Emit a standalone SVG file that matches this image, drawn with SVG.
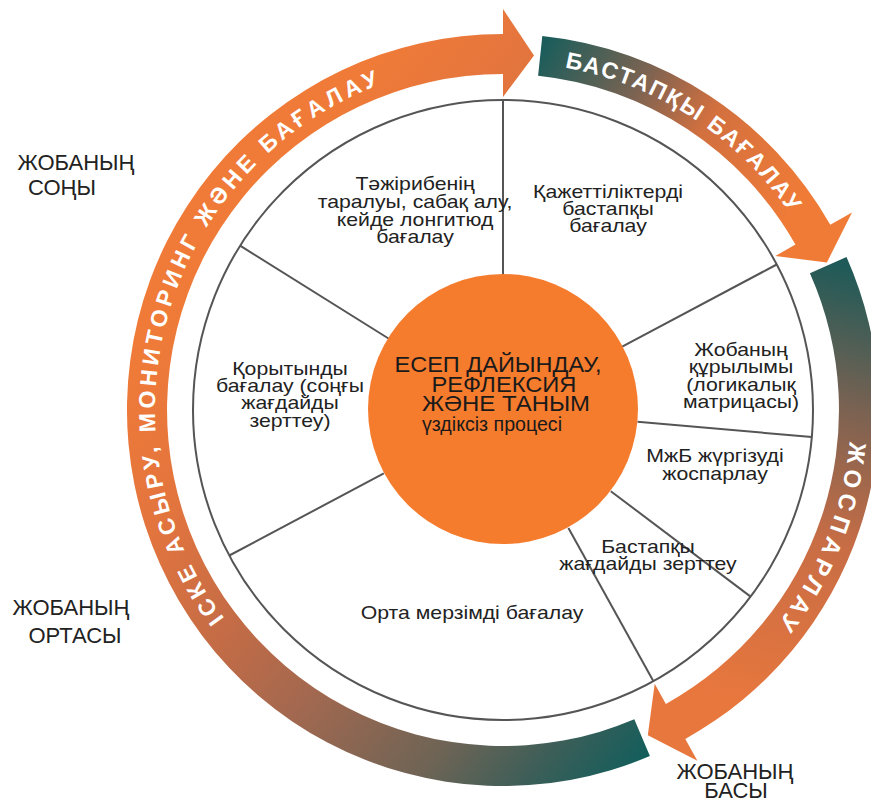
<svg xmlns="http://www.w3.org/2000/svg" width="871" height="802" viewBox="0 0 871 802">
<style>
text{font-family:"Liberation Sans",Arial,sans-serif}
.seg{font-size:18px;fill:#222;text-anchor:middle}
.ctr{font-size:22px;fill:#1a1a1a;text-anchor:middle}
.lbl{font-size:22px;fill:#222;text-anchor:middle}
.arc{font-size:23px;font-weight:bold;fill:#fff;text-anchor:middle}
.spoke{stroke:#555;stroke-width:2;fill:none}
</style>
<defs>
<linearGradient id="gA" gradientUnits="userSpaceOnUse" x1="660" y1="740" x2="150" y2="330">
<stop offset="0" stop-color="#135E5C"/>
<stop offset="0.12" stop-color="#3D5E58"/>
<stop offset="0.25" stop-color="#6E6455"/>
<stop offset="0.45" stop-color="#A06850"/>
<stop offset="0.6" stop-color="#C06B47"/>
<stop offset="0.8" stop-color="#E2743E"/>
<stop offset="1" stop-color="#F07B38"/>
</linearGradient>
<linearGradient id="gB" gradientUnits="userSpaceOnUse" x1="540" y1="55" x2="800" y2="200">
<stop offset="0" stop-color="#1C5D5B"/>
<stop offset="0.35" stop-color="#7E6351"/>
<stop offset="0.6" stop-color="#D2703F"/>
<stop offset="1" stop-color="#F07B37"/>
</linearGradient>
<linearGradient id="gC" gradientUnits="userSpaceOnUse" x1="840" y1="265" x2="720" y2="700">
<stop offset="0" stop-color="#1F5A58"/>
<stop offset="0.3" stop-color="#7A6252"/>
<stop offset="0.6" stop-color="#C86D45"/>
<stop offset="1" stop-color="#E8773D"/>
</linearGradient>
<path id="tpA" d="M250.6,649.5 A348,348 0 0 1 421.8,71.6"/>
<path id="tpB" d="M521.2,62.5 A348,348 0 0 1 813.1,252"/>
<path id="tpC" d="M847.6,361.6 A348,348 0 0 1 717.3,684.2"/>
</defs>
<rect width="871" height="802" fill="#fff"/>

<g id="arrow-implementation">
<path d="M649.9,756.1 A376,376 0 1 1 503,34 L503,9 L534,55.4 L503,97 L503,74 A336,336 0 1 0 634.3,719.3 Z" fill="url(#gA)"/>
<text class="arc" style="letter-spacing:4px"><textPath href="#tpA" startOffset="50%">ІСКЕ АСЫРУ, МОНИТОРИНГ ЖӘНЕ БАҒАЛАУ</textPath></text>
</g>
<g id="arrow-baseline">
<path d="M542.3,36.1 A376,376 0 0 1 830.3,224.8 L852,212.5 L826.9,262.4 L775.4,255.9 L795.4,244.5 A336,336 0 0 0 538.1,75.8 Z" fill="url(#gB)"/>
<text class="arc" style="letter-spacing:2px"><textPath href="#tpB" startOffset="50%">БАСТАПҚЫ БАҒАЛАУ</textPath></text>
</g>
<g id="arrow-planning">
<path d="M846.5,257.1 A376,376 0 0 1 685.3,738.9 L697.4,760.7 L647.8,735.2 L654.7,683.8 L665.9,703.9 A336,336 0 0 0 809.9,273.3 Z" fill="url(#gC)"/>
<text class="arc" style="font-size:24px;letter-spacing:5.5px"><textPath href="#tpC" startOffset="50%">ЖОСПАРЛАУ</textPath></text>
</g>

<g id="wheel">
<circle cx="503" cy="410" r="310" fill="#fff" stroke="#555" stroke-width="2"/>
</g>

<g id="connectors">
<line class="spoke" x1="503" y1="275" x2="503" y2="100"/>
<line class="spoke" x1="622.2" y1="346.6" x2="776.7" y2="264.5"/>
<line class="spoke" x1="637.5" y1="421.8" x2="811.8" y2="437"/>
<line class="spoke" x1="610.8" y1="491.2" x2="750.6" y2="596.6"/>
<line class="spoke" x1="568.4" y1="528.1" x2="653.3" y2="681.1"/>
<line class="spoke" x1="383.8" y1="473.4" x2="229.3" y2="555.5"/>
<line class="spoke" x1="388.5" y1="338.5" x2="240.1" y2="245.7"/>
</g>

<g id="center">
<circle cx="503" cy="409" r="135" fill="#F57B2D"/>
<text class="ctr" x="498" y="372" textLength="207" lengthAdjust="spacingAndGlyphs">ЕСЕП ДАЙЫНДАУ,</text>
<text class="ctr" x="504" y="392" textLength="145" lengthAdjust="spacingAndGlyphs">РЕФЛЕКСИЯ</text>
<text class="ctr" x="506" y="411" textLength="168" lengthAdjust="spacingAndGlyphs">ЖӘНЕ ТАНЫМ</text>
<text class="ctr" x="492" y="431" textLength="140" lengthAdjust="spacingAndGlyphs" style="font-size:21px">үздіксіз процесі</text>
</g>

<g id="seg-dissemination" transform="translate(415 0) scale(1.18 1)">
<text class="seg"><tspan x="0" y="190">Тәжірибенің</tspan><tspan x="0" y="208">таралуы, сабақ алу,</tspan><tspan x="0" y="226">кейде лонгитюд</tspan><tspan x="0" y="243">бағалау</tspan></text>
</g>
<g id="seg-needs" transform="translate(608 0) scale(1.18 1)">
<text class="seg"><tspan x="0" y="198">Қажеттіліктерді</tspan><tspan x="0" y="215">бастапқы</tspan><tspan x="0" y="232">бағалау</tspan></text>
</g>
<g id="seg-structure" transform="translate(741 0) scale(1.18 1)">
<text class="seg"><tspan x="0" y="356">Жобаның</tspan><tspan x="0" y="373">құрылымы</tspan><tspan x="0" y="391">(логикалық</tspan><tspan x="0" y="408">матрицасы)</tspan></text>
</g>
<g id="seg-me-plan" transform="translate(715 0) scale(1.18 1)">
<text class="seg"><tspan x="0" y="462">МжБ жүргізуді</tspan><tspan x="0" y="480">жоспарлау</tspan></text>
</g>
<g id="seg-baseline" transform="translate(648 0) scale(1.18 1)">
<text class="seg"><tspan x="0" y="553">Бастапқы</tspan><tspan x="0" y="570">жағдайды зерттеу</tspan></text>
</g>
<g id="seg-midterm" transform="translate(472 0) scale(1.18 1)">
<text class="seg" x="0" y="619">Орта мерзімді бағалау</text>
</g>
<g id="seg-final" transform="translate(290 0) scale(1.18 1)">
<text class="seg"><tspan x="0" y="375">Қорытынды</tspan><tspan x="0" y="392">бағалау (соңғы</tspan><tspan x="0" y="409">жағдайды</tspan><tspan x="0" y="427">зерттеу)</tspan></text>
</g>

<g id="label-end">
<text class="lbl"><tspan x="76" y="170">ЖОБАНЫҢ</tspan><tspan x="62" y="195">СОҢЫ</tspan></text>
</g>
<g id="label-middle">
<text class="lbl"><tspan x="71" y="615">ЖОБАНЫҢ</tspan><tspan x="75" y="643">ОРТАСЫ</tspan></text>
</g>
<g id="label-start">
<text class="lbl"><tspan x="735" y="779">ЖОБАНЫҢ</tspan><tspan x="736" y="798">БАСЫ</tspan></text>
</g>
</svg>
